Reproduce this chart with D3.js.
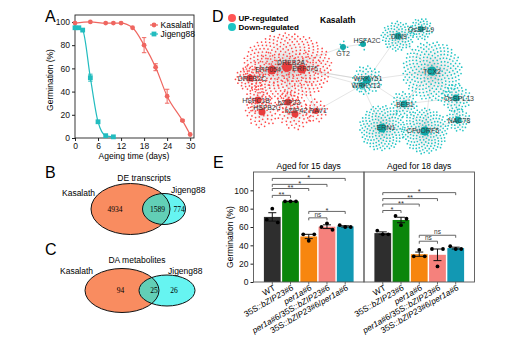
<!DOCTYPE html>
<html>
<head>
<meta charset="utf-8">
<script src="https://cdn.jsdelivr.net/npm/d3@7"></script>
<style>
  body { margin: 0; background: #fff; }
  svg { font-family: "Liberation Sans", Arial, sans-serif; }
</style>
</head>
<body>
<svg id="fig" width="520" height="340"></svg>
<script>
// ---------- A: germination vs ageing time
var kasDays = [0, 4, 8, 10, 12, 15, 18, 21, 24, 28, 30];
var kasGerm = [99, 100, 99, 99, 99, 95, 80, 61, 36, 15, 3];
var kasErr  = [0, 0, 0, 0, 0, 0, 6.5, 3, 6, 0.8, 0.5];
var jigDays = [0, 1, 2, 4, 6, 8, 10];
var jigGerm = [95, 95, 93, 52, 14, 2, 1];
var jigErr  = [0, 0, 0, 3, 0.5, 0, 0];
var ageTicks  = [0, 6, 12, 18, 24, 30];
var germTicks = [0, 20, 40, 60, 80, 100];

// ---------- B / C: venn counts [Kasalath only, shared, Jigeng88 only]
var deCounts = [4934, 1589, 774];
var daCounts = [94, 25, 26];

// ---------- D: regulatory network hubs
var hubNames  = ["DREB2A", "ERF054", "ERF076", "DREB2C", "HSFC1B", "HSFB2C", "bZIP23", "bZIP42", "RAV1",
                 "GT2", "HSFA2C", "DIN9", "OsSPL9", "TCX2", "WRKY51", "WRKY13", "BES1", "ERN1", "CPuORF5", "OsSPL13", "NAC78"];
var hubGroup  = ["up", "up", "up", "up", "up", "up", "up", "up", "up",
                 "down", "down", "down", "down", "down", "down", "down", "down", "down", "down", "down", "down"];
var hubLeaves = [360, 40, 40, 55, 40, 55, 35, 60, 30,
                 6, 5, 90, 50, 240, 60, 15, 50, 170, 170, 60, 45];
var hubLinks = [["DREB2A","ERF054"],["DREB2A","ERF076"],["DREB2A","DREB2C"],["DREB2A","HSFC1B"],["DREB2A","bZIP23"],
  ["DREB2A","bZIP42"],["DREB2A","RAV1"],["ERF054","DREB2C"],["HSFC1B","HSFB2C"],["bZIP23","bZIP42"],["ERF076","RAV1"],
  ["ERF076","WRKY51"],["DREB2A","WRKY51"],["ERF076","WRKY13"],["RAV1","WRKY13"],["DREB2A","GT2"],["GT2","HSFA2C"],
  ["WRKY51","TCX2"],["WRKY51","BES1"],["WRKY13","ERN1"],["BES1","TCX2"],["BES1","ERN1"],["BES1","CPuORF5"],
  ["ERN1","CPuORF5"],["TCX2","OsSPL13"],["TCX2","DIN9"],["DIN9","OsSPL9"],["TCX2","CPuORF5"],["OsSPL13","NAC78"],
  ["CPuORF5","NAC78"],["TCX2","NAC78"],["ERN1","TCX2"],["WRKY51","DIN9"],["BES1","OsSPL13"]];

// ---------- E: germination of transgenic lines
var genotypes = ["WT", "35S::bZIP23#6", "per1a#6", "per1a#6/35S::bZIP23#6", "35S::bZIP23#6/per1a#6"];
var ageGroups = ["Aged for 15 days", "Aged for 18 days"];
var reps15 = [[68, 80, 65], [88, 88, 88], [52, 45, 52], [60, 64, 57], [62, 60, 60]];
var reps18 = [[56, 52, 52], [72, 62, 69], [28, 35, 28], [36, 17, 36], [39, 36, 36]];
var sig15 = [[0, 1, "**"], [0, 2, "**"], [0, 3, "*"], [0, 4, "*"], [2, 3, "ns"], [2, 4, "*"]];
var sig18 = [[0, 1, "*"], [0, 2, "**"], [0, 3, "**"], [0, 4, "*"], [2, 3, "ns"], [2, 4, "ns"]];
var barTicks = [0, 20, 40, 60, 80, 100];

// ---------- layout (not data)
var kasColor = "#ef6660", jigColor = "#22bcbf";
var barColors = ["#2e2e2e", "#0b860b", "#f7860f", "#f5817c", "#1298b3"];
var bracketY = [[94.5, 102, 106.5, 113, 70, 77], [78, 85, 91, 97.5, 44.5, 51]];
var hubPos = { // local x, local y, cluster rx, hub radius, label dx, label dy, cluster ry
  DREB2A:[62,57,45,5,4,-5,34], ERF054:[47,60,20,4.5,-4,-1,18], ERF076:[77,59,20,4.5,3,-1,18], DREB2C:[25,68,15,3.5,2,0,13],
  HSFC1B:[33,90,13,3.5,-2,0,13], HSFB2C:[37,102,17,3.5,5,-5,16], bZIP23:[63,92,12,3.5,1,0,12], bZIP42:[70,104,18,3.5,1,-4,16],
  RAV1:[91,101,12,3,2,-1,12], GT2:[118,37,6,3,0,6,6], HSFA2C:[138,34,7,3,4,-4,7], DIN9:[173,26,17,3.5,1,0,15],
  OsSPL9:[196,19,12,3,0,0,11], TCX2:[207,61,30,4.5,0,0,30], WRKY51:[142,70,15,4,1,-2,15], WRKY13:[137,75,8,3,4,0,8],
  BES1:[179,94,13,3.5,1,0,13], ERN1:[157,118,23,4.5,4,-1,23], CPuORF5:[200,121,23,4.5,-2,-1,23], OsSPL13:[231,88,15,3.5,3,0,14],
  NAC78:[233,110,12,3.5,1,0,12]
};

var svg = d3.select("#fig");

function styleAxis(g, size) {
  g.attr("font-family", null).attr("font-size", size);
  g.selectAll(".tick line").attr("stroke", "#222");
  g.selectAll(".tick text").attr("fill", "#111");
}

// panel letters
[["A", 45, 22], ["B", 45, 178], ["C", 45, 255], ["D", 212, 22], ["E", 213, 168]].forEach(function(l) {
  svg.append("text").attr("x", l[1]).attr("y", l[2]).attr("font-size", 16).text(l[0]);
});

// ================= A =================
var xA = d3.scaleLinear().domain([0, 31]).range([75, 194]);
var yA = d3.scaleLinear().domain([0, 106]).range([138, 15]);
var gA = svg.append("g");

gA.append("g").attr("transform", "translate(0,138)")
  .call(d3.axisBottom(xA).tickValues(ageTicks).tickSize(3).tickPadding(1.5))
  .call(function(g) { g.select(".domain").remove(); styleAxis(g, 8.5); });
gA.append("g").attr("transform", "translate(75,0)")
  .call(d3.axisLeft(yA).tickValues(germTicks).tickSize(3).tickPadding(2))
  .call(function(g) { g.select(".domain").remove(); styleAxis(g, 8.5); });
gA.append("rect").attr("x", xA.range()[0]).attr("y", yA.range()[1])
  .attr("width", xA.range()[1] - xA.range()[0]).attr("height", yA.range()[0] - yA.range()[1])
  .attr("fill", "none").attr("stroke", "#222").attr("stroke-width", 0.9);

gA.append("text").attr("x", 134).attr("y", 158.5).attr("text-anchor", "middle").attr("font-size", 8.5).text("Ageing time (days)");
gA.append("text").attr("transform", "translate(53,80) rotate(-90)").attr("text-anchor", "middle").attr("font-size", 8.5).text("Germination (%)");

var lineA = d3.line().x(function(d) { return xA(d[0]); }).y(function(d) { return yA(d[1]); }).curve(d3.curveMonotoneX);

function drawSeries(days, germ, err, color, shape) {
  var pts = days.map(function(d, i) { return [d, germ[i], err[i]]; });
  gA.append("path").datum(pts).attr("d", lineA).attr("fill", "none").attr("stroke", color).attr("stroke-width", 1.2);
  pts.filter(function(p) { return p[2] > 0.6; }).forEach(function(p) {
    var x = xA(p[0]), y0 = yA(p[1] - p[2]), y1 = yA(p[1] + p[2]);
    gA.append("path").attr("d", "M" + x + "," + y0 + "V" + y1 + "M" + (x - 2.2) + "," + y0 + "H" + (x + 2.2) + "M" + (x - 2.2) + "," + y1 + "H" + (x + 2.2))
      .attr("stroke", color).attr("stroke-width", 1).attr("fill", "none");
  });
  pts.forEach(function(p) {
    if (shape === "circle") {
      gA.append("circle").attr("cx", xA(p[0])).attr("cy", yA(p[1])).attr("r", 2.4).attr("fill", color);
    } else {
      gA.append("rect").attr("x", xA(p[0]) - 2.4).attr("y", yA(p[1]) - 2.4).attr("width", 4.8).attr("height", 4.8).attr("fill", color);
    }
  });
}
drawSeries(kasDays, kasGerm, kasErr, kasColor, "circle");
drawSeries(jigDays, jigGerm, jigErr, jigColor, "square");

// legend
[["Kasalath", kasColor, "circle", 25], ["Jigeng88", jigColor, "square", 34]].forEach(function(l) {
  gA.append("line").attr("x1", 150).attr("x2", 158).attr("y1", l[3]).attr("y2", l[3]).attr("stroke", l[1]).attr("stroke-width", 1.2);
  if (l[2] === "circle") gA.append("circle").attr("cx", 154).attr("cy", l[3]).attr("r", 2.4).attr("fill", l[1]);
  else gA.append("rect").attr("x", 151.6).attr("y", l[3] - 2.4).attr("width", 4.8).attr("height", 4.8).attr("fill", l[1]);
  gA.append("text").attr("x", 160.5).attr("y", l[3] + 3).attr("font-size", 8.5).text(l[0]);
});

// ================= B / C =================
function venn(id, title, counts, L) {
  var g = svg.append("g");
  var clip = g.append("clipPath").attr("id", id);
  clip.append("ellipse").attr("cx", L.k[0]).attr("cy", L.k[1]).attr("rx", L.k[2]).attr("ry", L.k[3]);
  g.append("ellipse").attr("cx", L.k[0]).attr("cy", L.k[1]).attr("rx", L.k[2]).attr("ry", L.k[3]).attr("fill", "#f98c60");
  g.append("ellipse").attr("cx", L.j[0]).attr("cy", L.j[1]).attr("rx", L.j[2]).attr("ry", L.j[3]).attr("fill", "#66f4f1");
  g.append("ellipse").attr("cx", L.j[0]).attr("cy", L.j[1]).attr("rx", L.j[2]).attr("ry", L.j[3]).attr("fill", "#62cfb6").attr("clip-path", "url(#" + id + ")");
  [L.k, L.j].forEach(function(e) {
    g.append("ellipse").attr("cx", e[0]).attr("cy", e[1]).attr("rx", e[2]).attr("ry", e[3]).attr("fill", "none").attr("stroke", "#111").attr("stroke-width", 1);
  });
  counts.forEach(function(c, i) {
    g.append("text").attr("x", L.n[i]).attr("y", L.k[1] + 2.5).attr("text-anchor", "middle")
      .attr("font-family", "Liberation Serif, Times New Roman, serif").attr("font-size", 7.5).text(c);
  });
  g.append("text").attr("x", L.t[0]).attr("y", L.t[1]).attr("text-anchor", "middle").attr("font-size", 8.5).text(title);
  g.append("text").attr("x", L.kl[0]).attr("y", L.kl[1]).attr("font-size", 8.5).text("Kasalath");
  g.append("text").attr("x", L.jl[0]).attr("y", L.jl[1]).attr("font-size", 8.5).text("Jigeng88");
}
venn("clipB", "DE transcripts", deCounts, { k: [130.5, 209, 39.5, 25.5], j: [164, 209, 21.5, 15.5], n: [115, 157.5, 179], t: [144, 180.5], kl: [62, 196], jl: [171, 193] });
venn("clipC", "DA metabolites", daCounts, { k: [122, 290.5, 37, 22], j: [167, 290.5, 28, 15.5], n: [120.5, 154, 174], t: [137, 263], kl: [60, 273.5], jl: [168, 273.5] });

// ================= D =================
var netX = d3.scaleLinear().domain([0, 255]).range([225, 480]);
var netY = d3.scaleLinear().domain([0, 150]).range([10, 160]);
var gD = svg.append("g");
var golden = Math.PI * (3 - Math.sqrt(5));
var leaves = [];
hubNames.forEach(function(name, h) {
  var p = hubPos[name], n = hubLeaves[h];
  for (var i = 0; i < n; i++) {
    var f = Math.sqrt((i + 0.5) / n), a = i * golden + h * 1.3;
    leaves.push({ hub: name, group: hubGroup[h], x: p[0] + p[2] * f * Math.cos(a), y: p[1] + p[6] * f * Math.sin(a) });
  }
});

gD.append("g").selectAll("line").data(leaves).join("line")
  .attr("x1", function(d) { return netX(hubPos[d.hub][0]); }).attr("y1", function(d) { return netY(hubPos[d.hub][1]); })
  .attr("x2", function(d) { return netX(d.x); }).attr("y2", function(d) { return netY(d.y); })
  .attr("stroke", "#c4c4c4").attr("stroke-width", 0.25).attr("stroke-opacity", 0.6);
gD.append("g").selectAll("line").data(hubLinks).join("line")
  .attr("x1", function(d) { return netX(hubPos[d[0]][0]); }).attr("y1", function(d) { return netY(hubPos[d[0]][1]); })
  .attr("x2", function(d) { return netX(hubPos[d[1]][0]); }).attr("y2", function(d) { return netY(hubPos[d[1]][1]); })
  .attr("stroke", "#bdbdbd").attr("stroke-width", 0.5).attr("stroke-opacity", 0.8);
gD.append("g").selectAll("circle").data(leaves).join("circle")
  .attr("cx", function(d) { return netX(d.x); }).attr("cy", function(d) { return netY(d.y); }).attr("r", 0.85)
  .attr("fill", function(d) { return d.group === "up" ? "#ff4b4b" : "#22c5c5"; });
gD.append("g").selectAll("circle").data(hubNames).join("circle")
  .attr("cx", function(d) { return netX(hubPos[d][0]); }).attr("cy", function(d) { return netY(hubPos[d][1]); })
  .attr("r", function(d) { return hubPos[d][3]; })
  .attr("fill", function(d, i) { return hubGroup[i] === "up" ? "#e83c3c" : "#10a8a8"; });
gD.append("g").selectAll("text").data(hubNames).join("text")
  .attr("x", function(d) { return netX(hubPos[d][0] + hubPos[d][4]); })
  .attr("y", function(d) { return netY(hubPos[d][1] + hubPos[d][5]) + 2.5; })
  .attr("text-anchor", "middle").attr("font-size", 7).attr("fill", "#3a3a3a").text(function(d) { return d; });

// legend
[["UP-regulated", "#ff5555", 18], ["Down-regulated", "#1cc4c4", 27]].forEach(function(l) {
  gD.append("circle").attr("cx", 232).attr("cy", l[2]).attr("r", 4).attr("fill", l[1]);
  gD.append("text").attr("x", 238.5).attr("y", l[2] + 3).attr("font-size", 8).attr("font-weight", "bold").text(l[0]);
});
gD.append("text").attr("x", 320).attr("y", 23).attr("font-size", 8.5).attr("font-weight", "bold").text("Kasalath");

// ================= E =================
var yE = d3.scaleLinear().domain([0, 120]).range([282, 172]);
var panelRange = [[253.5, 364], [364, 474.5]];
var gE = svg.append("g");

gE.append("g").attr("transform", "translate(253.5,0)")
  .call(d3.axisLeft(yE).tickValues(barTicks).tickSize(3).tickPadding(2))
  .call(function(g) { g.select(".domain").remove(); styleAxis(g, 8.5); });
gE.append("text").attr("transform", "translate(233,237) rotate(-90)").attr("text-anchor", "middle").attr("font-size", 8.5).text("Germination (%)");

function tickLabel(sel, label) {
  label.split(/(bZIP23|per1a)/).filter(function(s) { return s.length; }).forEach(function(s) {
    sel.append("tspan").attr("font-style", (s === "bZIP23" || s === "per1a") ? "italic" : null).text(s);
  });
}

[reps15, reps18].forEach(function(reps, p) {
  var xb = d3.scaleBand().domain(genotypes).range(panelRange[p]).paddingInner(0.08).paddingOuter(0.57);
  var bw = xb.bandwidth();
  var g = gE.append("g");
  var sigs = [sig15, sig18][p];

  genotypes.forEach(function(gt, i) {
    var vals = reps[i], m = d3.mean(vals), se = d3.deviation(vals) / Math.sqrt(vals.length);
    var cx = xb(gt) + bw / 2;
    g.append("rect").attr("x", xb(gt)).attr("y", yE(m)).attr("width", bw).attr("height", yE(0) - yE(m)).attr("fill", barColors[i]);
    g.append("path").attr("d", "M" + cx + "," + yE(m - se) + "V" + yE(m + se) + "M" + (cx - 4) + "," + yE(m + se) + "H" + (cx + 4) + "M" + (cx - 4) + "," + yE(m - se) + "H" + (cx + 4))
      .attr("stroke", "#111").attr("stroke-width", 1).attr("fill", "none");
    vals.forEach(function(v, k) {
      g.append("circle").attr("cx", cx + (k - 1) * 5.5).attr("cy", yE(v)).attr("r", 1.9).attr("fill", "#000");
    });
    g.append("line").attr("x1", cx).attr("x2", cx).attr("y1", yE(0)).attr("y2", yE(0) + 2.5).attr("stroke", "#444").attr("stroke-width", 0.8);
    var t = g.append("text").attr("text-anchor", "end").attr("font-size", 8.3)
      .attr("transform", "translate(" + (cx + 3.5) + "," + (yE(0) + 7.5) + ") rotate(-30)");
    tickLabel(t, gt);
  });

  sigs.forEach(function(s, k) {
    var x1 = xb(genotypes[s[0]]) + bw / 2, x2 = xb(genotypes[s[1]]) + bw / 2, y = yE(bracketY[p][k]);
    g.append("path").attr("d", "M" + x1 + "," + (y + 2.5) + "V" + y + "H" + x2 + "V" + (y + 2.5))
      .attr("fill", "none").attr("stroke", "#555").attr("stroke-width", 0.9);
    g.append("text").attr("x", (x1 + x2) / 2).attr("y", s[2] === "ns" ? y - 1.2 : y + 1.5).attr("text-anchor", "middle")
      .attr("font-size", s[2] === "ns" ? 6.5 : 7.5).attr("fill", "#333").text(s[2]);
  });

  g.append("rect").attr("x", panelRange[p][0]).attr("y", yE(120)).attr("width", panelRange[p][1] - panelRange[p][0]).attr("height", yE(0) - yE(120))
    .attr("fill", "none").attr("stroke", "#555").attr("stroke-width", 0.9);
  g.append("text").attr("x", (panelRange[p][0] + panelRange[p][1]) / 2).attr("y", 168.5).attr("text-anchor", "middle").attr("font-size", 8.5).text(ageGroups[p]);
});
</script>
</body>
</html>
